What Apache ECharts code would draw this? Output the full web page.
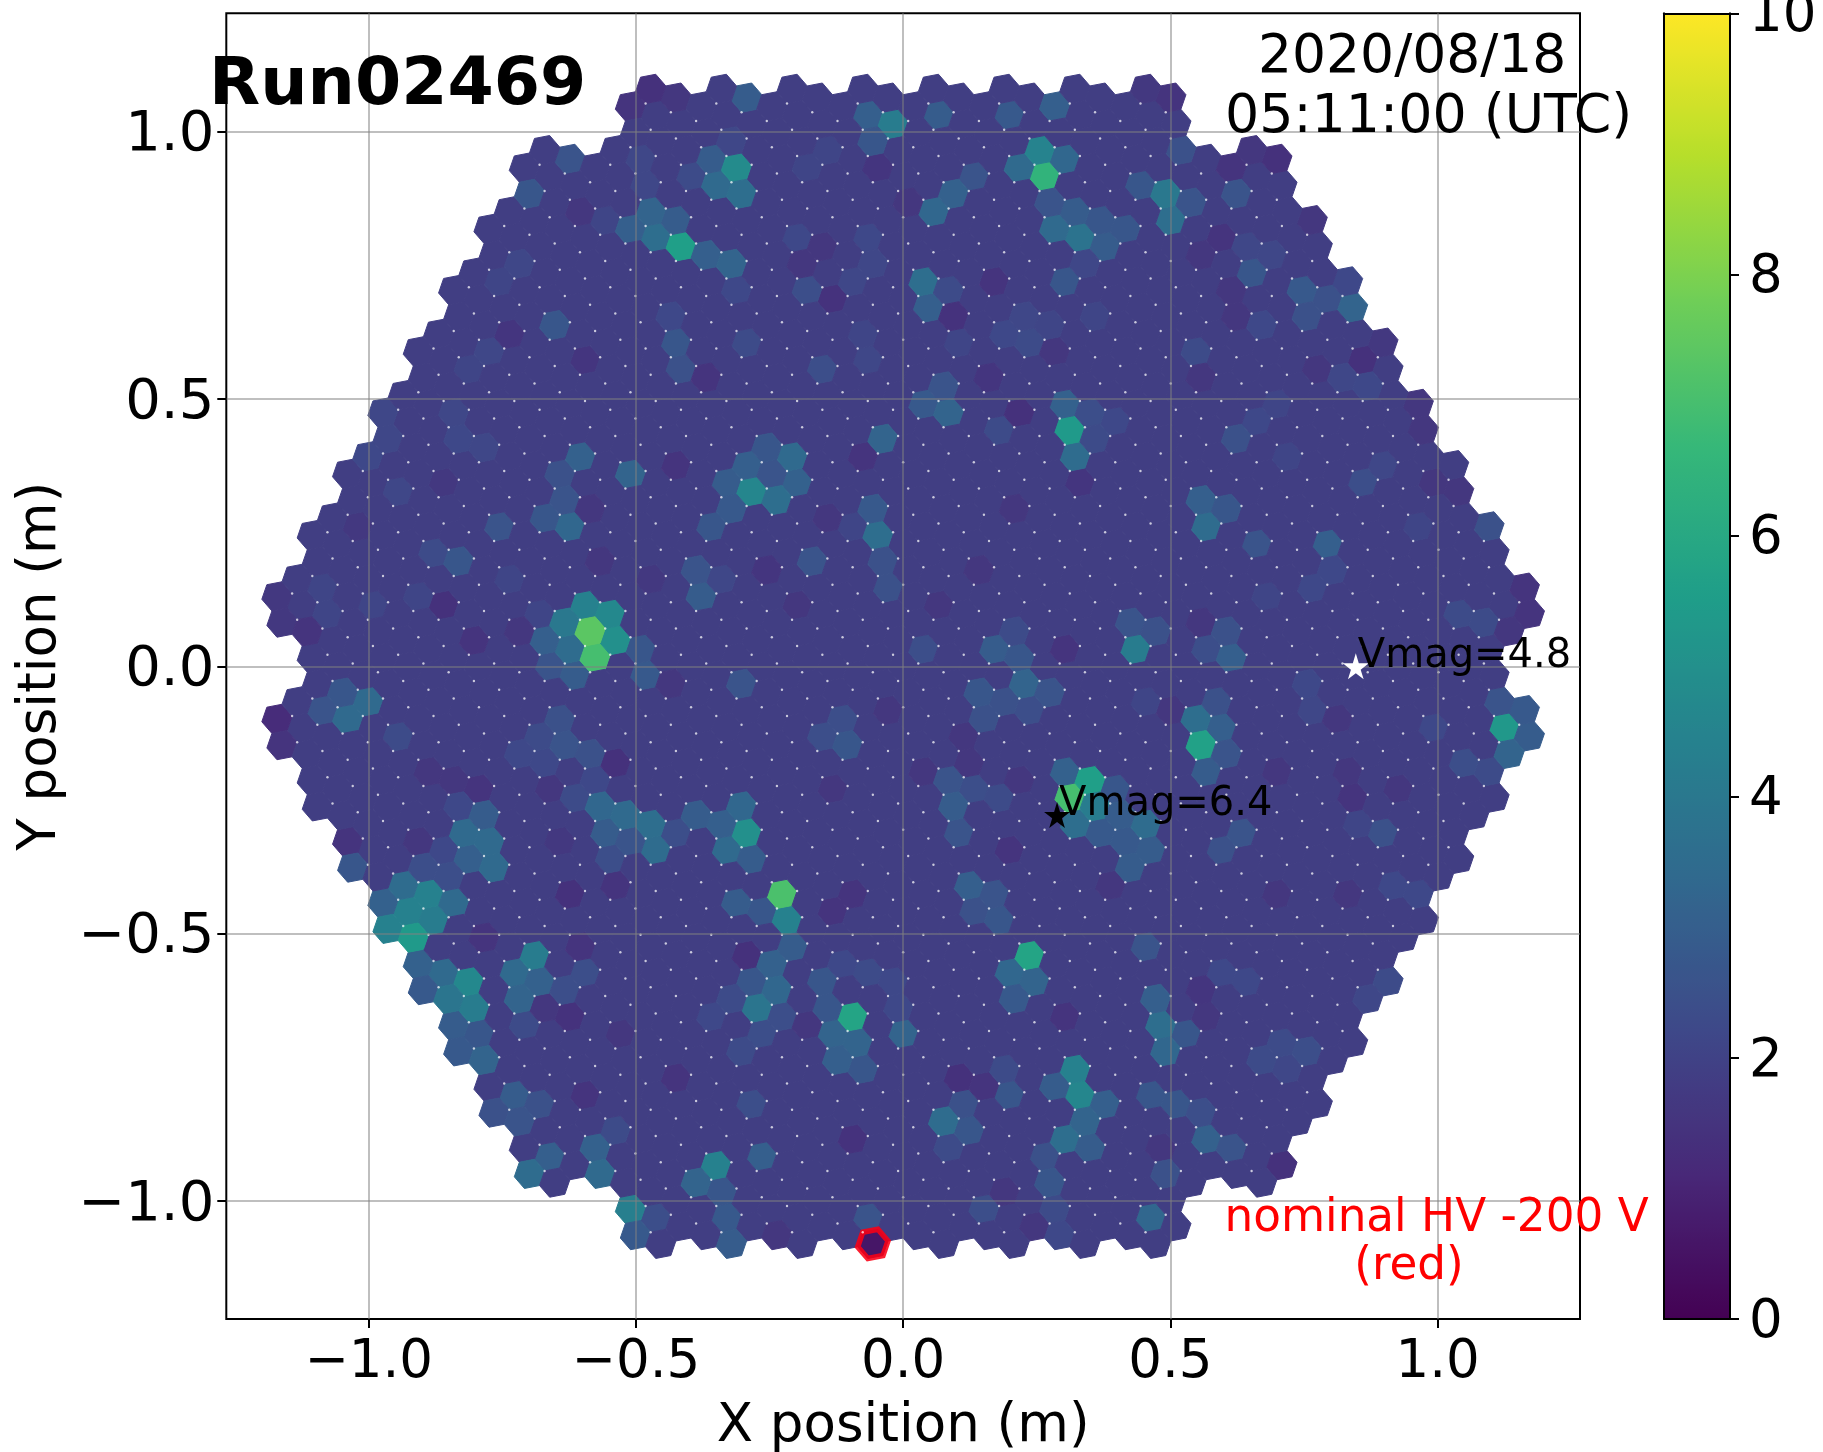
<!DOCTYPE html>
<html>
<head>
<meta charset="utf-8">
<style>html,body{margin:0;padding:0;background:#fff}#c{width:1823px;height:1452px}</style>
<script src="https://cdn.jsdelivr.net/npm/echarts@6/dist/echarts.min.js"></script>
</head>
<body>
<div id="c"></div>
<script>
// ---- Labels ----
const runLabel = 'Run02469';
const dateLabel = '2020/08/18';
const timeLabel = '05:11:00 (UTC)';
const hvLabel = ['nominal HV -200 V', '(red)'];
const axisTicks = [-1, -0.5, 0, 0.5, 1];
const colorTicks = [0, 2, 4, 6, 8, 10];
const viridis = ['#440154','#482878','#3e4989','#31688e','#26828e','#1f9e89','#35b779','#6ece58','#b5de2b','#fde725'];

// ---- Stars ----
const stars = [
  {name: 'Vmag=4.8', x: 0.847, y: 0.0, color: '#fff'},
  {name: 'Vmag=6.4', x: 0.288, y: -0.278, color: '#000'}
];

// ---- Camera geometry: 265 modules of 7 pixels, pitch 0.05 m ----
const pixelPitch = 0.05;
const moduleRadius = 9;
const latticeAngleDeg = -19.107;

// ---- Readings, metres and signal: [x, y, signal] ----
const baseSignal = 1.85;
const redCell = [-0.0567, -1.080, 0.6];
const softCells = [
[-1.091,.149,2.1],[-.966,.457,2.15],[-.829,.478,2.1],[-.907,.135,2.1],[-1.054,.092,2.1],[-.991,.113,2.1],[-.736,.163,2.1],[-.683,.099,2.1],[-.474,.944,2.15],[-.468,.893,2.15],[-.552,.851,2.1],[-.717,.75,2.15],[-.767,.715,2.1],[-.754,.6,2.15],[-.811,.55,2.1],
[-.321,.979,2.15],[-.165,.944,2.1],[-.137,.965,2.1],[-.065,.757,2.15],[-.093,.722,2.15],[-.075,.621,2.1],[-.068,.578,2.15],[.081,.6,2.1],[-.337,.156,2.15],[-.093,.264,2.1],[.337,.758,2.15],[.374,.657,2.1],[.262,.65,2.1],
[.699,.471,2.1],[.717,.392,2.1],[.898,.378,2.15],[.961,.278,2.1],[.749,.156,2.15],[.674,.128,2.1],[.449,-.057,2.1],[.861,-.315,2.1]
];
const darkCells = [
[-.514,1.047,1.5],[-.471,1.08,1.4],[-.421,1.062,1.6],[-.605,.851,1.6],[-.739,.621,1.55],[-.595,.571,1.55],[-.86,.117,1.4],[-1.113,.067,1.5],[-.801,.049,1.5],[-.427,.375,1.5],[-.714,.067,1.6],[-.564,.199,1.6],[-.474,.163,1.65],[-.586,.292,1.6],[-.867,.342,1.65],[-1.023,.267,1.65],[-1.166,.128,1.65],[-1.166,.078,1.65],
[-.134,.686,1.45],[-.05,.933,1.55],[.169,.718,1.5],[.094,.654,1.45],[.215,.475,1.4],[-.078,.392,1.5],[.303,.034,1.5],[-.368,.539,1.5],[-.252,.181,1.55],[-.193,.117,1.6],[.331,.342,1.55],[-.143,.278,1.6],[.006,.868,1.6],[-.149,.786,1.6],[-.187,.75,1.6],[.159,.536,1.55],[.284,.593,1.6],[.206,.296,1.6],[.131,.181,1.6],[.069,.131,1.6],
[.502,1.069,1.5],[.455,1.083,1.65],[.699,.951,1.4],[.652,.969,1.6],[.611,.933,1.5],[.767,.836,1.6],[.861,.575,1.4],[.774,.557,1.6],[1.166,.149,1.5],[1.173,.099,1.5],[1.132,.07,1.6],[1.042,.328,1.6],[.986,.346,1.6],[.624,.657,1.6],[.614,.707,1.6],[.593,.804,1.5],[.558,.772,1.6],[.558,.536,1.6],[.901,.607,1.65],[.967,.496,1.6],[.973,.446,1.6],[.555,.085,1.6],
[-1.167,-.098,1.25],[-1.166,-.15,1.5],[-.904,-.325,1.6],[-1.041,-.329,1.5],[-.536,-.182,1.4],[-.623,-.426,1.4],[-.536,-.411,1.5],[-.782,-.508,1.5],[-.605,-.526,1.5],[-.623,-.655,1.45],[-.67,-.637,1.6],[-.595,-.801,1.5],[-.885,-.197,1.6],[-.842,-.211,1.6],[-.792,-.229,1.5],[-.661,-.229,1.6],[-.642,-.325,1.65],[-.53,-.687,1.6],[-.43,-.018,1.6],[-.43,-.766,1.5],
[-.29,-.54,1.4],[-.134,-.458,1.5],[-.093,-.426,1.5],[-.093,-.884,1.45],[.103,-.769,1.4],[.15,-.787,1.5],[.2,-.343,1.5],[.303,-.655,1.5],[-.134,-.229,1.6],[-.178,-.669,1.6],[.19,-.977,1.6],[.243,-1.045,1.6],[-.237,-1.066,1.6],[.112,-.175,1.6],[.038,-.193,1.6],[.218,-.214,1.6],[-.025,-.078,1.6],[.112,-.129,1.6],[.374,-.393,1.6],
[.708,-.934,1.4],[.83,-.25,1.5],[.833,-.193,1.6],[.699,-.426,1.6],[.833,-.429,1.6],[.555,-.608,1.55],[.568,-.651,1.6],[.923,-.229,1.6],[.499,-.089,1.6],[.699,-.193,1.6],[.814,-.096,1.6],[.48,-.902,1.6]
];
const warmCells = [
[-.471,.851,3.2],[-.511,.822,3.0],[-.464,.8,3.6],[-.427,.833,2.9],[-.624,.951,2.6],[-.7,.883,2.7],[-.651,.637,2.7],[-.605,.392,3.1],[-.51,.36,3.2],[-.624,.26,3.3],[-.639,.314,2.6],[-.676,.278,2.7],[-.642,.364,2.5],[-.67,.049,3.0],[-.489,.031,2.7],[-.624,.031,3.5],[-.754,.26,2.6],[-.832,.195,2.7],[-.879,.21,2.3],[-.424,.607,2.7],[-.415,.553,2.5],[-.433,.654,2.2],[-.948,.332,2.15],[-.836,.425,2.2],[-.783,.41,2.15],[-.842,.478,2.15],[-.963,.425,2.15],[-1.007,.396,2.2],[-.418,.911,2.3],
[.215,.933,3.4],[.303,.949,3.3],[-.352,.901,3.4],[-.302,.883,3.6],[-.358,.951,2.9],[-.068,1.033,3.0],[-.293,1.065,2.9],[-.059,.979,2.7],[.066,1.031,2.9],[.197,1.031,2.8],[.284,1.05,3.0],[.094,.885,3.1],[.055,.851,3.3],[.131,.915,2.6],[.284,.818,3.4],[.331,.8,3.8],[.321,.851,2.9],[.275,.868,2.6],[.374,.786,2.9],[.415,.818,2.7],[.368,.833,2.7],[-.321,.752,3.2],[-.369,.768,3.0],[.036,.718,3.6],[.045,.668,3.0],[.084,.704,2.3],[.301,.722,2.7],[-.199,.8,2.2],[-.149,.553,2.4],[-.293,.606,2.3],[-.312,.7,2.2],[-.181,.702,2.4],[-.065,.804,2.2],[.075,.525,2.6],[.034,.491,2.8],[.083,.475,3.2],[.187,.621,2.2],[.234,.606,2.3],[.218,.654,2.15],[.303,.493,3.1],[.32,.391,3.5],[.349,.478,2.4],[.396,.46,2.2],[.357,.425,2.3],[.178,.443,2.3],[-.038,.425,3.2],[-.238,.31,3.6],[-.206,.392,3.4],[-.292,.374,3.0],[-.252,.41,2.7],[-.198,.342,3.1],[-.33,.342,2.9],[-.246,.36,2.6],[-.321,.292,2.8],[-.358,.26,2.7],[-.046,.244,3.6],[-.057,.294,2.8],[-.169,.196,2.6],[-.025,.196,2.5],[-.028,.149,2.5],[-.386,.181,2.6],[-.377,.131,2.9],[.169,.034,2.9],[.215,.017,2.7],[.437,.085,2.6],[.206,.067,2.3],[.038,.034,2.4],
[.537,.865,2.6],[.443,.897,2.7],[.518,.965,2.5],[.623,.883,2.6],[.652,.736,2.7],[.643,.786,2.15],[.689,.768,2.15],[.746,.704,2.8],[.842,.672,3.2],[.795,.686,2.5],[.755,.654,2.5],[.833,.722,2.2],[.671,.636,2.2],[.546,.589,2.3],[.823,.536,2.15],[.868,.525,2.2],[.623,.425,2.5],[.661,.457,2.2],[.555,.31,3.0],[.602,.296,2.7],[.567,.264,3.5],[.66,.231,2.6],[.794,.229,3.0],[.861,.342,2.4],[.805,.185,2.2],[.764,.153,2.2],[1.098,.264,2.5],[1.039,.099,2.3],[1.085,.085,2.3],[.615,.02,3.0],[.565,.031,2.4],[.605,.067,2.5],[.474,.07,2.5],
[-1.0,-.068,3.4],[-1.038,-.096,3.4],[-1.047,-.05,2.7],[-1.088,-.082,2.6],[-.948,-.129,2.3],[-1.032,-.379,2.7],[-.935,-.411,3.5],[-.973,-.444,3.1],[-.838,-.444,3.4],[-.91,-.558,3.1],[-.86,-.572,3.4],[-.901,-.608,2.8],[-.842,-.673,2.9],[-.793,-.687,2.7],[-.832,-.723,2.8],[-.784,-.737,3.2],[-.726,-.802,2.9],[-.68,-.816,2.5],[-.767,-.837,2.5],[-.717,-.852,2.6],[-.661,-.916,3.0],[-.7,-.95,3.5],[-.575,-.898,3.1],[-.567,-.95,3.4],[-.536,-.866,2.3],[-.502,-1.065,2.8],[-.465,-1.03,2.4],[-.562,-.266,3.3],[-.517,-.279,3.4],[-.471,-.293,3.6],[-.556,-.311,2.9],[-.462,-.343,3.5],[-.511,-.325,2.6],[-.418,-.304,2.4],[-.549,-.336,2.4],[-.782,-.279,2.9],[-.82,-.311,3.4],[-.773,-.329,3.4],[-.81,-.361,3.0],[-.765,-.377,3.4],[-.832,-.261,2.2],[-.86,-.325,2.2],[-.895,-.375,2.4],[-.854,-.393,2.4],[-.726,-.572,3.4],[-.68,-.59,3.1],[-.717,-.622,3.2],[-.595,-.572,2.4],[-.633,-.605,2.4],[-.708,-.669,2.3],[-.642,-.107,2.5],[-.68,-.129,2.3],[-.633,-.146,2.6],[-.586,-.161,2.5],[-.72,-.164,2.2],[-.67,-.182,2.2],[-.577,-.211,2.2],[-.614,-.243,2.3],[-.483,-.025,2.8],[-.611,-.021,2.9],[-.664,-.007,2.6],
[-.312,-.44,2.9],[-.265,-.458,2.7],[-.302,-.261,3.3],[-.34,-.293,3.0],[-.332,-.343,3.4],[-.284,-.359,2.9],[-.38,-.279,2.9],[-.302,-.032,2.6],[-.112,-.1,2.4],[-.103,-.146,2.7],[-.149,-.129,2.4],[.227,-.032,3.2],[.14,-.05,2.7],[.275,-.05,2.6],[.187,-.064,2.5],[.234,-.078,2.4],[.15,-.096,2.5],[.303,-.194,3.1],[.399,-.229,2.7],[.322,-.293,3.6],[.409,-.275,2.9],[.368,-.311,2.8],[.418,-.325,2.8],[.437,-.293,3.5],[.424,-.372,2.9],[.084,-.211,2.6],[.131,-.225,2.4],[.094,-.261,2.9],[.103,-.311,2.6],[.178,-.243,2.3],[.124,-.409,3.0],[.168,-.426,2.6],[.131,-.458,2.5],[.178,-.472,2.7],[.199,-.572,3.3],[.247,-.588,3.2],[.206,-.619,2.8],[-.131,-.687,3.2],[-.082,-.703,3.2],[-.121,-.737,3.0],[-.075,-.751,2.7],[0,-.687,3.2],[-.149,-.588,2.7],[-.14,-.637,2.7],[-.206,-.524,2.9],[-.244,-.558,3.1],[-.235,-.605,3.3],[-.284,-.59,2.7],[-.227,-.651,2.4],[-.324,-.619,2.3],[-.362,-.651,2.2],[-.265,-.687,2.4],[-.302,-.719,2.3],[-.062,-.569,2.3],[-.025,-.587,2.2],[-.009,-.637,2.2],[-.111,-.544,2.2],[.284,-.784,2.9],[.378,-.818,3.0],[.34,-.852,3.2],[.303,-.882,3.6],[.349,-.9,2.9],[.197,-.801,2.7],[.187,-.751,2.3],[.075,-.85,3.5],[.124,-.866,2.7],[.116,-.819,2.5],[.087,-.9,2.3],[.265,-.916,2.5],[.275,-.963,2.7],[-.386,-.966,3.2],[-.34,-.98,2.7],[-.263,-.916,3.0],[-.33,-1.03,2.8],[-.321,-1.08,2.9],[-.065,-1.03,2.6],[-.284,-.819,2.4],[.15,-1.016,2.4],[.284,-1.016,2.3],[.293,-1.066,2.2],
[.548,-.098,3.6],[.594,-.113,3.0],[.604,-.163,2.6],[.567,-.197,2.9],[.585,-.064,2.5],[1.113,-.064,2.6],[1.163,-.082,2.8],[1.173,-.129,2.9],[1.132,-.164,3.2],[1.048,-.18,2.4],[1.095,-.194,2.3],[.992,-.114,2.2],[.895,-.311,2.5],[.633,-.308,2.6],[.593,-.34,2.5],[.455,-.343,2.9],[.755,-.082,2.15],[.767,-.035,2.2],[.917,-.411,2.2],[.957,-.426,2.2],[.452,-.526,2.6],[.473,-.619,3.0],[.482,-.669,3.6],[.53,-.687,2.7],[.492,-.719,3.3],[.462,-.801,2.7],[.512,-.819,2.7],[.558,-.834,2.4],[.568,-.884,3.1],[.615,-.902,2.6],[.49,-.948,2.5],[.463,-1.03,3.3],[.905,-.59,2.3],[.868,-.622,2.15],[.708,-.712,2.3],[.755,-.726,2.4],[.671,-.737,2.3],[.717,-.762,2.15],[.599,-.572,2.2],[.646,-.587,2.2]
];
const hotCells = [
[-.418,.786,5.6],[-.585,.066,7.4],[-.576,.018,7.0],[-.592,.113,4.4],[-.545,.095,4.7],[-.633,.081,4.0],[-.537,.049,5.0],
[.264,.916,6.5],[.256,.967,4.5],[-.312,.933,4.8],[-.022,1.015,4.2],[.311,.441,5.4],[-.285,.327,4.6],[.492,.883,4.0],[.499,.833,3.6],[.431,.034,4.2],
[-.885,-.429,4.4],[-.924,-.461,4.4],[-.876,-.476,4.2],[-.963,-.494,4.4],[-.916,-.508,5.4],[-.813,-.59,4.7],[-.851,-.621,3.9],[-.803,-.637,4.2],[-.511,-1.015,4.3],[-.689,-.54,4.2],
[-.226,-.426,7.1],[-.218,-.474,4.4],[-.293,-.309,5.0],[.351,-.211,5.6],[.312,-.247,7.0],[.361,-.261,4.2],[.236,-.538,5.8],[-.093,-.655,5.8],[.321,-.751,4.4],[.331,-.801,4.6],[-.272,-.637,3.9],[-.349,-.932,4.4],
[.557,-.146,5.7],[1.123,-.114,5.3]
];

// ---- Build the camera ----
const deg = Math.PI / 180;
const aVec = [pixelPitch * Math.cos(latticeAngleDeg * deg), pixelPitch * Math.sin(latticeAngleDeg * deg)];
const bVec = [pixelPitch * Math.cos((latticeAngleDeg + 60) * deg), pixelPitch * Math.sin((latticeAngleDeg + 60) * deg)];
const modPitch = pixelPitch * Math.sqrt(7);
const hexR = pixelPitch / Math.sqrt(3);
const hexAngles = [0,1,2,3,4,5].map(k => (latticeAngleDeg + 30 + 60 * k) * deg);
const clusterOffsets = [[0,0],[1,0],[-1,0],[0,1],[0,-1],[-1,1],[1,-1]].map(o => [o[0]*aVec[0]+o[1]*bVec[0], o[0]*aVec[1]+o[1]*bVec[1]]);
const cells = [];
for (let r = -moduleRadius; r <= moduleRadius; r++) {
  for (let q = -moduleRadius; q <= moduleRadius; q++) {
    if (Math.abs(q + r) > moduleRadius) continue;
    const isCorner = (Math.abs(q) === moduleRadius && (r === 0 || q + r === 0)) || (Math.abs(r) === moduleRadius && q === 0);
    if (isCorner) continue;
    const cx = (q + r / 2) * modPitch, cy = r * modPitch * Math.sqrt(3) / 2;
    clusterOffsets.forEach(o => cells.push([cx + o[0], cy + o[1], baseSignal]));
  }
}
function nearestCell(x, y) {
  let best = cells[0], bd = 1e9;
  for (const c of cells) { const d = (c[0]-x)*(c[0]-x) + (c[1]-y)*(c[1]-y); if (d < bd) { bd = d; best = c; } }
  return best;
}
[softCells, darkCells, warmCells, hotCells].forEach(list => list.forEach(p => { nearestCell(p[0], p[1])[2] = p[2]; }));
const redTarget = nearestCell(redCell[0], redCell[1]);
redTarget[2] = redCell[2];

// Small white specks where three cells meet
const cellKeys = new Set(cells.map(c => Math.round(c[0]*500) + '_' + Math.round(c[1]*500)));
const hasCell = (x, y) => cellKeys.has(Math.round(x*500) + '_' + Math.round(y*500));
const speckAngle = (latticeAngleDeg + 270) * deg;
const specks = [];
cells.forEach(c => {
  const n1 = [c[0] - bVec[0], c[1] - bVec[1]];
  const n2 = [c[0] + (aVec[0] - bVec[0]), c[1] + (aVec[1] - bVec[1])];
  if (hasCell(n1[0], n1[1]) && hasCell(n2[0], n2[1])) specks.push([c[0] + hexR*Math.cos(speckAngle), c[1] + hexR*Math.sin(speckAngle)]);
});

function hexItem(params, api, extra) {
  const x = api.value(0), y = api.value(1);
  const pts = hexAngles.map(a => api.coord([x + hexR*Math.cos(a), y + hexR*Math.sin(a)]));
  const color = api.visual('color');
  return {type: 'polygon', silent: true, shape: {points: pts},
    style: extra ? {fill: color, stroke: 'rgba(250,0,20,0.88)', lineWidth: 5.5, lineJoin: 'miter'} : {fill: color, stroke: color, lineWidth: 1}};
}

const FF = '"DejaVu Sans"';
const minus = v => String(Number.isInteger(v) ? v.toFixed(1) : v).replace('-', '\u2212');
const starPath = 'path://M50,0 L61,35 L98,35 L68,57 L79,91 L50,70 L21,91 L32,57 L2,35 L39,35 Z';
const axisCommon = {
  type: 'value', z: 5,
  axisLine: {show: false, onZero: false},
  axisTick: {show: true, length: 9, lineStyle: {color: '#000', width: 2}, customValues: axisTicks},
  axisLabel: {show: true, fontFamily: FF, fontSize: 53, color: '#000', formatter: minus, customValues: axisTicks, showMinLabel: true, showMaxLabel: true},
  splitLine: {show: true, lineStyle: {color: 'rgba(128,128,128,0.5)', width: 2}},
  nameLocation: 'middle',
  nameTextStyle: {fontFamily: FF, fontSize: 53, color: '#000'}
};
const frameLine = {show: true, onZero: false, lineStyle: {color: '#000', width: 2}};

const chart = echarts.init(document.getElementById('c'), null, {renderer: 'canvas', width: 1823, height: 1452});
chart.setOption({
  animation: false,
  backgroundColor: '#fff',
  grid: [
    {left: 226.3, right: 243, top: 13.3, bottom: 133, containLabel: false, outerBoundsMode: 'none', show: true, borderColor: '#000', borderWidth: 2, backgroundColor: 'transparent'},
    {left: 1664, right: 93, top: 13.3, bottom: 133, containLabel: false, outerBoundsMode: 'none'}
  ],
  xAxis: [
    Object.assign({}, axisCommon, {gridIndex: 0, min: -1.2665, max: 1.2665, name: 'X position (m)', nameGap: 82, axisLabel: Object.assign({}, axisCommon.axisLabel, {margin: 18})}),
    {type: 'value', gridIndex: 1, min: 0, max: 1, z: 10, position: 'bottom', axisLine: frameLine, axisTick: {show: false}, axisLabel: {show: false}, splitLine: {show: false}},
    {type: 'value', gridIndex: 1, min: 0, max: 1, z: 10, position: 'top', axisLine: frameLine, axisTick: {show: false}, axisLabel: {show: false}, splitLine: {show: false}}
  ],
  yAxis: [
    Object.assign({}, axisCommon, {gridIndex: 0, min: -1.2207, max: 1.2215, name: 'Y position (m)', nameGap: 150, axisLabel: Object.assign({}, axisCommon.axisLabel, {margin: 12, fontSize: 56, verticalAlign: 'top', lineHeight: 8})}),
    {type: 'value', gridIndex: 1, min: 0, max: 10, interval: 2, z: 10, position: 'right', axisLine: frameLine,
      axisTick: {show: true, length: 9, lineStyle: {color: '#000', width: 2}},
      axisLabel: {show: true, fontFamily: FF, fontSize: 53, color: '#000', margin: 19, verticalAlign: 'top', lineHeight: 8, customValues: colorTicks}, splitLine: {show: false}},
    {type: 'value', gridIndex: 1, min: 0, max: 10, z: 10, position: 'left', axisLine: frameLine, axisTick: {show: false}, axisLabel: {show: false}, splitLine: {show: false}}
  ],
  visualMap: {
    type: 'continuous', min: 0, max: 10, seriesIndex: [0, 1], dimension: 2,
    left: 1664, top: 13.3, itemWidth: 66, itemHeight: 1305.7, padding: 0, calculable: false, hoverLink: false, realtime: false,
    text: null, inRange: {color: viridis}, textStyle: {fontSize: 1, color: 'transparent'}
  },
  series: [
    {type: 'custom', name: 'camera', coordinateSystem: 'cartesian2d', xAxisIndex: 0, yAxisIndex: 0, z: 2, silent: true,
      renderItem: (p, a) => hexItem(p, a, false), encode: {x: 0, y: 1}, data: cells, progressive: 0},
    {type: 'custom', name: 'nominal HV -200 V', coordinateSystem: 'cartesian2d', xAxisIndex: 0, yAxisIndex: 0, z: 3, silent: true,
      renderItem: (p, a) => hexItem(p, a, true), encode: {x: 0, y: 1}, data: [redTarget]},
    {type: 'scatter', name: 'specks', xAxisIndex: 0, yAxisIndex: 0, z: 3, silent: true, symbol: 'circle', symbolSize: 2.4,
      itemStyle: {color: 'rgba(255,255,255,0.9)'}, data: specks, large: false, progressive: 0},
    {type: 'scatter', name: 'stars', xAxisIndex: 0, yAxisIndex: 0, z: 8, silent: true, symbol: starPath, symbolSize: 26,
      data: stars.map(s => ({name: s.name, value: [s.x, s.y], itemStyle: {color: s.color, opacity: 1}})),
      label: {show: true, position: 'right', distance: 0, offset: [-11, -10], formatter: '{b}', fontFamily: FF, fontSize: 40, color: '#000'}}
  ],
  graphic: [
    {type: 'text', z: 100, x: 209, y: 87, style: {text: runLabel, font: 'bold 66.5px ' + FF, fill: '#000', verticalAlign: 'middle'}},
    {type: 'text', z: 100, x: 1258, y: 58, style: {text: dateLabel, font: '53.5px ' + FF, fill: '#000', verticalAlign: 'middle'}},
    {type: 'text', z: 100, x: 1225, y: 118, style: {text: timeLabel, font: '53.8px ' + FF, fill: '#000', verticalAlign: 'middle'}},
    {type: 'text', z: 100, x: 1224.5, y: 1219, style: {text: hvLabel[0], font: '45.3px ' + FF, fill: '#f00', verticalAlign: 'middle'}},
    {type: 'text', z: 100, x: 1409, y: 1267, style: {text: hvLabel[1], font: '45.3px ' + FF, fill: '#f00', align: 'center', verticalAlign: 'middle'}}
  ]
});
</script>
</body>
</html>
